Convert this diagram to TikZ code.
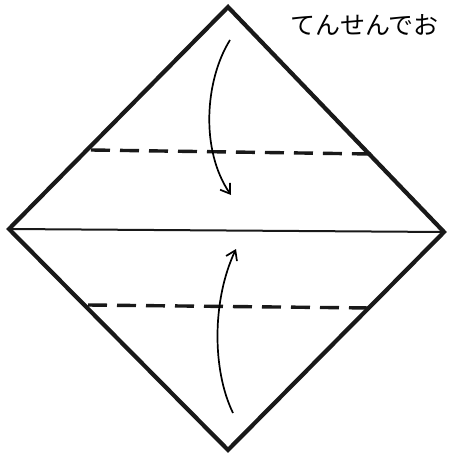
\documentclass[tikz,border=0pt]{standalone}
\usepackage{fontspec}
\newfontfamily\jpfont{Noto Sans CJK JP}
\usetikzlibrary{arrows.meta}
\tikzset{
  outline/.style={line width=4.2pt, line join=miter, black!90},
  fold/.style={line width=3.4pt, dash pattern=on 19pt off 10pt, black!90},
  midline/.style={line width=2pt, black!90},
  curvearrow/.style={line width=1.7pt, -{Straight Barb[length=9pt,width=12pt,line width=1.7pt]}},
  label/.style={font=\jpfont\fontsize{25}{28}\selectfont, anchor=base west, inner sep=0pt}
}
\begin{document}
\begin{tikzpicture}[x=1pt,y=-1pt]
\useasboundingbox[fill=white] (0,0) rectangle (449,454);
\coordinate (T) at (228,7);
\coordinate (L) at (9,229);
\coordinate (R) at (444,232);
\coordinate (B) at (228,450);
\draw[outline] (T) -- (R) -- (B) -- (L) -- cycle;
\draw[midline] (L) -- (R);
\coordinate (u1) at (91,150);
\coordinate (u2) at (371,154);
\coordinate (l1) at (88,305);
\coordinate (l2) at (371,308);
\draw[fold] (u1) -- (u2);
\draw[fold] (l1) -- (l2);
\coordinate (a1) at (230,40);
\coordinate (a2) at (231,195);
\draw[curvearrow] (a1) .. controls (205,80) and (200,150) .. (a2);
\coordinate (b1) at (233,413);
\coordinate (b2) at (236,249);
\draw[curvearrow] (b1) .. controls (212,370) and (212,300) .. (b2);
\node[label] (txt) at (290,35) {てんせんでお};
\end{tikzpicture}
\end{document}
